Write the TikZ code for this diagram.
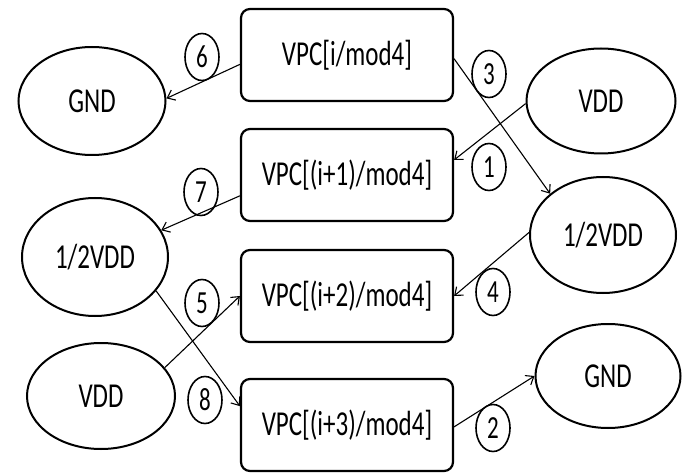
\documentclass[tikz,border=0pt]{standalone}
\usepackage{fontspec}
\setmainfont{Carlito}
\usepackage{graphicx}
\usetikzlibrary{shapes.geometric,arrows.meta}
\newcommand{\tall}[1]{\scalebox{1}[1.4]{#1}}
\tikzset{
 box/.style={draw, line width=2.2pt, rounded corners=9pt, minimum width=212pt, minimum height=92pt, inner sep=0pt, font=\fontsize{25}{30}\selectfont},
 oval/.style={draw, ellipse, line width=2pt, inner sep=0pt, font=\fontsize{25}{30}\selectfont},
 num/.style={draw, ellipse, line width=1.6pt, minimum width=34pt, minimum height=47pt, inner sep=0pt, font=\fontsize{23}{28}\selectfont},
 conn/.style={line width=1.1pt, -{Straight Barb[length=7pt,width=11pt]}}
}
\begin{document}
\begin{tikzpicture}[x=1pt,y=-1pt]
\useasboundingbox (0,0) rectangle (686,476);
\node[box] (b1) at (347,55) {\tall{VPC[i/mod4]}};
\node[box] (b2) at (347,175) {\tall{VPC[(i+1)/mod4]}};
\node[box] (b3) at (347,296) {\tall{VPC[(i+2)/mod4]}};
\node[box] (b4) at (347,425) {\tall{VPC[(i+3)/mod4]}};
\node[oval, minimum width=147pt, minimum height=108pt] (gL) at (92,101) {\tall{GND}};
\node[oval, minimum width=146pt, minimum height=118pt] (hL) at (95,257) {\tall{1/2VDD}};
\node[oval, minimum width=148pt, minimum height=106pt] (vL) at (101,396) {\tall{VDD}};
\node[oval, minimum width=149pt, minimum height=105pt] (vR) at (601,101) {\tall{VDD}};
\node[oval, minimum width=146pt, minimum height=116pt] (hR) at (603,235) {\tall{1/2VDD}};
\node[oval, minimum width=145pt, minimum height=104pt] (gR) at (608,376) {\tall{GND}};
\node[num] (n6) at (202,57) {\tall{6}};
\node[num] (n7) at (201,192) {\tall{7}};
\node[num] (n3) at (489,74) {\tall{3}};
\node[num] (n1) at (489,167) {\tall{1}};
\node[num] (n4) at (493,292) {\tall{4}};
\node[num] (n5) at (202,303) {\tall{5}};
\node[num] (n8) at (205,400) {\tall{8}};
\node[num] (n2) at (493,428) {\tall{2}};
\draw[conn] (b1.185) -- (gL.2);
\draw[conn] (b2.191) -- (hL.22);
\draw[conn] (b1.358) -- (hR.142);
\draw[conn] (vR.182) -- (b2.8);
\draw[conn] (hR.178) -- (b3.east);
\draw[conn] (vL.24) -- (b3.west);
\draw[conn] (hL.331) -- (b4.170);
\draw[conn] (b4.359) -- (gR.west);
\end{tikzpicture}
\end{document}
